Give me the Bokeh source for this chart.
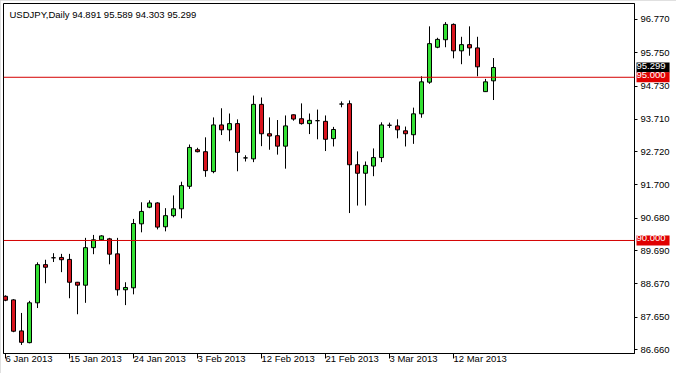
from bokeh.plotting import figure
from bokeh.models import FixedTicker, Span, Label, ColumnDataSource, Range1d, Text
from bokeh.core.properties import value
from bokeh.embed import file_html
from bokeh.resources import INLINE

# ---- data (USDJPY daily) ----
opens = [88.29, 88.18, 87.23, 86.87, 88.09, 89.26, 89.47, 89.48, 89.42, 88.72,
         88.63, 89.78, 90.02, 90.05, 89.59, 88.49, 88.55, 90.51, 91.02, 91.15,
         90.42, 90.76, 90.97, 91.66, 92.78, 92.72, 92.11, 93.54, 93.39, 93.58,
         92.53, 92.50, 94.17, 93.27, 93.21, 92.89, 93.85, 93.73, 93.58, 93.67,
         93.65, 93.12, 94.18, 94.19, 92.32, 92.06, 92.28, 92.54, 93.53, 93.51,
         93.36, 93.24, 93.88, 94.85, 95.92, 96.15, 96.62, 95.81, 96.00, 95.90,
         94.56, 94.891]
highs = [88.32, 88.20, 87.78, 88.15, 89.33, 89.41, 89.61, 89.59, 89.59, 88.73,
         90.08, 90.17, 90.16, 90.08, 90.08, 88.72, 90.66, 91.17, 91.23, 91.17,
         90.99, 91.38, 91.80, 92.94, 92.84, 93.16, 93.77, 94.05, 93.89, 93.71,
         92.61, 94.44, 94.38, 93.77, 93.69, 93.83, 93.86, 94.20, 93.89, 94.01,
         93.83, 93.48, 94.26, 94.29, 92.73, 92.42, 92.82, 93.62, 93.61, 93.71,
         93.49, 94.07, 95.03, 96.56, 96.21, 96.69, 96.65, 96.24, 96.56, 96.24,
         94.95, 95.589]
lows = [88.14, 87.19, 86.80, 86.85, 87.93, 88.69, 89.34, 89.03, 88.23, 87.74,
        88.09, 89.58, 90.00, 89.27, 88.31, 88.02, 88.35, 90.25, 90.99, 90.34,
        90.28, 90.71, 90.68, 91.58, 92.70, 91.95, 92.06, 93.23, 93.04, 92.12,
        92.42, 92.40, 92.89, 92.78, 92.63, 92.20, 93.67, 93.55, 93.26, 93.10,
        92.74, 92.88, 94.08, 90.84, 91.07, 91.07, 91.97, 92.40, 93.45, 93.13,
        92.88, 92.96, 93.76, 94.80, 95.89, 95.92, 95.58, 95.40, 95.66, 95.03,
        94.55, 94.303]
closes = [88.17, 87.22, 86.88, 88.09, 89.26, 89.18, 89.47, 89.41, 88.72, 88.63,
          89.78, 90.02, 90.14, 89.58, 88.49, 88.56, 90.52, 90.89, 91.15, 90.41,
          90.76, 90.97, 91.68, 92.85, 92.72, 92.14, 93.54, 93.39, 93.58, 92.70,
          92.53, 94.17, 93.27, 93.20, 92.89, 93.51, 93.72, 93.58, 93.68, 93.67,
          93.10, 93.40, 94.18, 92.32, 92.06, 92.30, 92.54, 93.54, 93.53, 93.39,
          93.27, 93.88, 94.86, 96.03, 96.16, 96.62, 95.81, 96.00, 95.90, 95.32,
          94.86, 95.299]

x_tick_bars = [0, 8, 16, 24, 32, 40, 48, 56]
x_tick_labels = ["6 Jan 2013", "15 Jan 2013", "24 Jan 2013", "3 Feb 2013",
                 "12 Feb 2013", "21 Feb 2013", "3 Mar 2013", "12 Mar 2013"]
y_tick_values = [86.66, 87.65, 88.67, 89.69, 90.68, 91.70, 92.72, 93.71,
                 94.73, 95.75, 96.77]
y_tick_labels = ["86.660", "87.650", "88.670", "89.690", "90.680", "91.700",
                 "92.720", "93.710", "94.730", "95.750", "96.770"]
level_lines = [95.0, 90.0]
title_text = "USDJPY,Daily  94.891 95.589 94.303 95.299"

# price tags shown on the right edge: current price, then the two levels
tag_values = [95.299, 95.0, 90.0]
tag_texts = ["95.299", "95.000", "90.000"]
tag_colors = ["black", "#e00000", "#e00000"]

FONT = "Liberation Sans"
FS = "9.5px"
BULL = "#33e033"
BEAR = "#d8141e"

X_START, X_END = -0.25, 78.625

idx = list(range(len(opens)))
body_top = [max(o, c) for o, c in zip(opens, closes)]
body_bot = [min(o, c) for o, c in zip(opens, closes)]
colors = [BULL if c > o else (BEAR if c < o else "black") for o, c in zip(opens, closes)]
src = ColumnDataSource(dict(x=idx, high=highs, low=lows, top=body_top,
                            bottom=body_bot, color=colors))

p = figure(width=676, height=373, output_backend="svg", toolbar_location=None,
           x_range=Range1d(X_START, X_END), y_range=Range1d(86.5375, 97.26),
           y_axis_location="right", min_border_left=3, min_border_top=3,
           min_border_right=42, min_border_bottom=20)
p.background_fill_color = "white"
p.border_fill_color = "white"
p.outline_line_color = "black"
p.outline_line_width = 1
p.xgrid.visible = False
p.ygrid.visible = False
p.styles = {"outline": "2px solid #d6d6d6", "outline-offset": "-2px"}

# level lines
for lv in level_lines:
    p.add_layout(Span(location=lv, dimension="width", line_color="#d40000", line_width=1))

# candles
p.segment(x0="x", y0="low", x1="x", y1="high", source=src, line_color="black", line_width=1)
p.vbar(x="x", width=0.5, top="top", bottom="bottom", source=src,
       fill_color="color", line_color="black", line_width=1)

# axes
ya = p.yaxis[0]
ya.ticker = FixedTicker(ticks=y_tick_values)
ya.major_label_overrides = {v: s for v, s in zip(y_tick_values, y_tick_labels)}
ya.minor_tick_line_color = None
ya.major_tick_in = 0
ya.major_tick_out = 3
ya.major_label_standoff = 3
ya.axis_line_color = "black"
ya.major_label_text_font = FONT
ya.major_label_text_font_size = FS
ya.major_label_text_color = "black"

xa = p.xaxis[0]
xa.ticker = FixedTicker(ticks=x_tick_bars)
xa.major_label_overrides = {v: s for v, s in zip(x_tick_bars, x_tick_labels)}
xa.minor_tick_line_color = None
xa.major_tick_in = 0
xa.major_tick_out = 5
xa.major_label_standoff = 0
xa.axis_line_color = "black"
xa.major_label_text_font = FONT
xa.major_label_text_font_size = FS
xa.major_label_text_color = "black"
xa.major_label_orientation = -0.0001

# title
p.add_layout(Label(x=6, y=345, x_units="screen", y_units="screen", text=title_text,
                   text_font=FONT, text_font_size=FS, text_color="black",
                   text_baseline="top", text_align="left"))

# price tags just right of the frame, drawn at overlay level (not clipped)
tag_src = ColumnDataSource(dict(y=tag_values, text=tag_texts, color=tag_colors,
                                x=[X_END + 0.25] * len(tag_values)))
txt_kw = {}
tprops = Text.properties()
if "background_fill_color" in tprops:
    txt_kw["background_fill_color"] = "color"
if "padding" in tprops:
    txt_kw["padding"] = (0, 4, 0, 4)
p.text(x="x", y="y", text="text", source=tag_src, text_color="white",
       text_font=value(FONT), text_font_size=value(FS),
       text_baseline="middle", text_align="left", level="overlay", **txt_kw)

open("out.html", "w").write(file_html(p, INLINE))
